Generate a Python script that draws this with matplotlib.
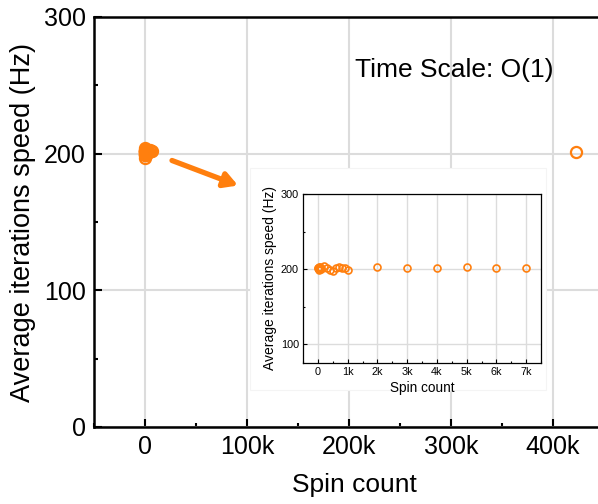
import matplotlib
matplotlib.use("Agg")
import matplotlib.pyplot as plt
from matplotlib.ticker import FuncFormatter, MultipleLocator
from matplotlib.patches import Rectangle

plt.rcParams['font.family'] = ['Liberation Sans', 'DejaVu Sans']

# Data
spins = [10, 20, 30, 40, 50, 60, 70, 80, 90, 100,
         200, 300, 400, 500, 600, 700, 800, 900, 1000,
         2000, 3000, 4000, 5000, 6000, 7000]
speed = [201, 202, 200, 203, 199, 202, 201, 203, 200, 202,
         204, 201, 199, 197, 202, 203, 201, 202, 199,
         203, 201, 201, 203, 202, 202]
extra_spins = [423000]
extra_speed = [201]

main_spins = spins + extra_spins
main_speed = speed + extra_speed

orange = '#FF7F0E'
grid_c = '#DCDCDC'

W, H = 598, 504
fig = plt.figure(figsize=(W / 100, H / 100), dpi=100)

def px_rect(l, t, r, b):
    return [l / W, 1 - b / H, (r - l) / W, (b - t) / H]

ax = fig.add_axes(px_rect(94, 17, 614, 427))
ax.set_xlim(-50000, 460000)
ax.set_ylim(0, 300)
ax.plot(main_spins, main_speed, 'o', mfc='none', mec=orange, ms=8, mew=1.6, zorder=3)
ax.xaxis.set_major_locator(MultipleLocator(100000))
ax.xaxis.set_minor_locator(MultipleLocator(50000))
ax.yaxis.set_major_locator(MultipleLocator(100))
ax.yaxis.set_minor_locator(MultipleLocator(50))
kfmt = FuncFormatter(lambda v, p: '0' if v == 0 else f'{int(v/1000)}k')
ax.xaxis.set_major_formatter(kfmt)
ax.grid(True, which='major', color=grid_c, lw=1.5, zorder=0)
ax.tick_params(which='both', direction='in', top=False, right=False, width=1.5,
               labelsize=18, pad=6)
ax.tick_params(which='major', length=6)
ax.tick_params(which='minor', length=3)
for s in ax.spines.values():
    s.set_linewidth(1.8)
ax.set_xlabel('Spin count', fontsize=19, labelpad=10)
ax.set_ylabel('Average iterations speed (Hz)', fontsize=19.5)
ax.yaxis.set_label_coords(-0.112, 0.5)

ax.text(0.502, 0.871, 'Time Scale: O(1)', transform=ax.transAxes,
        fontsize=19, va='center', ha='left')
ax.annotate('', xy=(0.277, 0.589), xytext=(0.150, 0.650),
            xycoords='axes fraction', textcoords='axes fraction',
            arrowprops=dict(arrowstyle='-|>,head_length=0.8,head_width=0.45',
                            color=orange, lw=3.8, shrinkA=0, shrinkB=0))

# white background for the inset
bg = Rectangle((250 / W, 1 - 390 / H), (546 - 250) / W, (390 - 168) / H,
               transform=fig.transFigure, facecolor='white', edgecolor='#F4F4F4',
               lw=0.8, zorder=2)
fig.patches.append(bg)

ins = fig.add_axes(px_rect(303, 194, 541, 363))
ins.set_zorder(5)
ins.set_xlim(-500, 7500)
ins.set_ylim(75, 300)
ins.plot(spins, speed, 'o', mfc='none', mec=orange, ms=5, mew=1.2, zorder=3)
ins.xaxis.set_major_locator(MultipleLocator(1000))
ins.xaxis.set_minor_locator(MultipleLocator(500))
ins.yaxis.set_major_locator(MultipleLocator(100))
ins.yaxis.set_minor_locator(MultipleLocator(50))
ins.xaxis.set_major_formatter(kfmt)
ins.grid(True, which='major', color=grid_c, lw=1.0, zorder=0)
ins.tick_params(which='both', direction='in', top=False, right=False, width=0.8,
                labelsize=7.8, pad=3)
ins.tick_params(which='major', length=3)
ins.tick_params(which='minor', length=1.5)
for s in ins.spines.values():
    s.set_linewidth(0.9)
ins.set_xlabel('Spin count', fontsize=9.8, labelpad=3)
ins.set_ylabel('Average iterations speed (Hz)', fontsize=10, labelpad=3)

fig.savefig('out.png', dpi=100)
